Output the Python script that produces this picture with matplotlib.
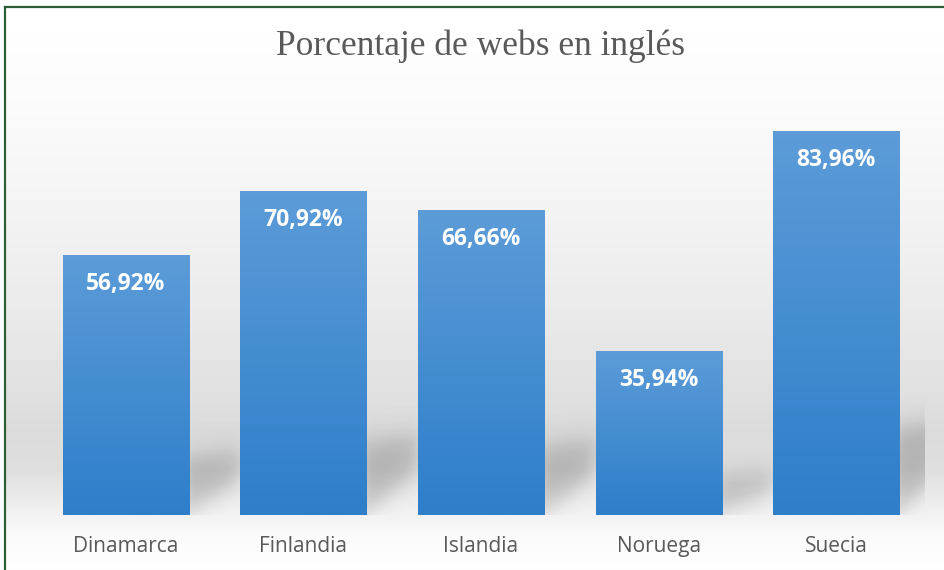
import numpy as np
import matplotlib.pyplot as plt
from matplotlib.lines import Line2D

paises = ['Dinamarca', 'Finlandia', 'Islandia', 'Noruega', 'Suecia']
porcentajes = [56.92, 70.92, 66.66, 35.94, 83.96]
etiquetas = ['56,92%', '70,92%', '66,66%', '35,94%', '83,96%']

W, H = 945, 570
fig = plt.figure(figsize=(W / 100, H / 100), dpi=100)

# background gradient (whole chart area)
bg = fig.add_axes([5 / W, 0, 1 - 5 / W, 1 - 7 / H])
rows = np.arange(7, H)
gray = np.interp(rows, [7, 100, 200, 330, 430, 470, 505, 535, 570],
                 [255, 251, 244, 232, 219, 222, 238, 250, 254]) / 255
img = np.repeat(gray[:, None], 2, axis=1)
bg.imshow(img, cmap='gray', vmin=0, vmax=1, aspect='auto', extent=(0, 1, 0, 1))
bg.set_axis_off()

# plot area
left, right, bottom, top = 37, 925, 515, 100
ax = fig.add_axes([left / W, (H - bottom) / H, (right - left) / W, (bottom - top) / H])
ax.patch.set_alpha(0)
ymax = (bottom - top) / 4.574
ax.set_axis_off()

x = np.arange(len(paises))
ancho = 0.71

# soft shadows behind the bars
gx = np.linspace(-0.5, 4.5, 1000)
gy = np.linspace(0, ymax, 420)
X, Y = np.meshgrid(gx, gy)
sig = lambda z: 1 / (1 + np.exp(-z))
mask = np.zeros_like(X)
L = 0.29
for xi, v in zip(x, porcentajes):
    xr = xi + ancho / 2
    t = np.clip((X - xr) / L, 0, 1)
    yt = v * (0.22 + 0.02 * t)
    yb = v * 0.13 * t
    m = sig((Y - yb) / 1.5) * sig((yt - Y) / 1.8) * sig((X - xr + 0.02) / 0.02) * sig((xr + L - X) / 0.03)
    m *= (0.7 + 0.3 * np.clip((Y - yb) / (yt - yb + 1e-6), 0, 1))
    mask = np.maximum(mask, m)
shadow = np.zeros(X.shape + (4,))
shadow[..., 3] = 0.22 * mask
ax.imshow(shadow, origin='lower', extent=(-0.5, 4.5, 0, ymax), aspect='auto', zorder=1)

# bars with vertical gradient
barras = ax.bar(x, porcentajes, width=ancho, color='#3a85cf', zorder=2)
c_top = np.array([92, 156, 216]) / 255
c_bot = np.array([46, 126, 202]) / 255
for b in barras:
    t = np.linspace(0, 1, 200)[:, None]
    grad = (c_bot * (1 - t) + c_top * t)[:, None, :]
    bx, by = b.get_x(), b.get_y()
    im = ax.imshow(grad, origin='lower', aspect='auto', zorder=3,
                   extent=(bx, bx + b.get_width(), by, by + b.get_height()))
    im.set_clip_path(b)

for xi, v, lab in zip(x, porcentajes, etiquetas):
    ax.annotate(lab, (xi, v), xytext=(0, -21), textcoords='offset points',
                ha='center', va='center', color='white', fontsize=16.5,
                fontweight='bold', family='Open Sans', zorder=4)
    ax.annotate(paises[xi], (xi, 0), xytext=(0, -23), textcoords='offset points',
                ha='center', va='center', color='#595959', fontsize=15,
                family='Open Sans', annotation_clip=False)
ax.set_xlim(-0.5, 4.5)
ax.set_ylim(0, ymax)

fig.text(481 / W, 1 - 46 / H, 'Porcentaje de webs en inglés', ha='center', va='center',
         fontsize=25.5, color='#595959', family='Liberation Serif')

# green frame (top and left)
fig.add_artist(Line2D([5 / W, 1], [1 - 7 / H, 1 - 7 / H], color='#2d5e34', lw=1.6))
fig.add_artist(Line2D([5 / W, 5 / W], [0, 1 - 7 / H], color='#2d5e34', lw=1.6))

fig.savefig('out.png', dpi=100)
